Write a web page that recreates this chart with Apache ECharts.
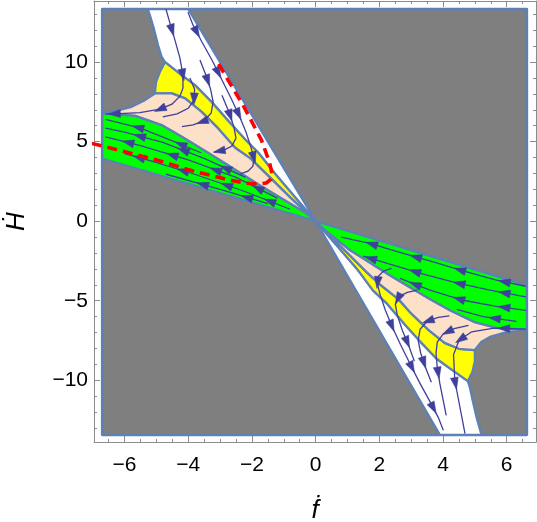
<!DOCTYPE html>
<html>
<head>
<meta charset="utf-8">
<script src="https://cdn.jsdelivr.net/npm/echarts@6/dist/echarts.min.js"></script>
<style>
html, body { margin: 0; padding: 0; background: #fff; }
#chart { width: 537px; height: 522px; }
</style>
</head>
<body>
<div id="chart"></div>
<script>
// plotted area (grey background)
var plotBox = [[-6.7, -13.43], [6.63, -13.43], [6.63, 13.33], [-6.7, 13.33]];

// upper-left region boundaries
var ulBlobEdge = [[-5.27, 13.33], [-5.2, 12.9], [-5.08, 12.1], [-4.95, 11.07], [-4.84, 10.35], [-4.73, 10.0]];
var ulWhiteEdge = [[-4.0, 13.33], [0, 0]];
var ulYellowTop = [[-4.73, 10.0], [-4.21, 9.18], [-3.79, 8.55], [-3.27, 7.5], [-2.74, 6.3], [-2.22, 5.15], [-1.8, 4.3], [-1.28, 3.0], [-0.6, 1.4], [0, 0]];
var ulYellowBottom = [[-5.05, 8.03], [-4.52, 8.03], [-4.1, 7.72], [-3.58, 6.87], [-3.06, 5.83], [-2.53, 4.62], [-2.05, 3.95], [-1.59, 3.05], [-0.8, 1.5], [0, 0]];
var ulYellowLeft = [[-5.05, 8.03], [-5.01, 8.76], [-4.89, 9.39], [-4.73, 10.0]];
var ulPeachTopLeft = [[-6.7, 6.77], [-6.3, 6.92], [-5.78, 7.19], [-5.36, 7.61], [-5.05, 8.03]];
var ulGreenTop = [[-6.7, 6.77], [-5.67, 6.62], [-4.84, 6.04], [-4.2, 5.3], [-3.5, 4.45], [-2.84, 3.63], [-1.8, 2.3], [-0.34, 0.55], [0, 0]];
var ulGreenBottom = [[-6.7, 3.94], [0, 0]];

// lower-right region boundaries
var lrWhiteEdge = [[0, 0], [3.9, -13.43]];
var lrBlobEdge = [[5.21, -13.43], [5.05, -12.3], [4.93, -11.26], [4.85, -10.5], [4.78, -10.05]];
var lrYellowBottom = [[0, 0], [0.7, -1.6], [1.3, -3.0], [1.8, -4.35], [2.25, -5.2], [2.8, -6.5], [3.3, -7.6], [3.8, -8.65], [4.25, -9.3], [4.78, -10.05]];
var lrYellowRight = [[4.78, -10.05], [4.92, -9.5], [5.0, -8.8], [5.0, -8.1]];
var lrYellowTop = [[0, 0], [0.85, -1.7], [1.6, -3.2], [2.0, -3.95], [2.6, -4.9], [3.0, -5.8], [3.55, -6.85], [4.05, -7.65], [4.5, -8.02], [5.0, -8.1]];
var lrPeachRight = [[5.0, -8.1], [5.2, -7.6], [5.5, -7.25], [6.0, -6.98], [6.63, -6.82]];
var lrGreenBottom = [[0, 0], [0.3, -0.57], [1.08, -1.82], [2.33, -3.4], [3.0, -4.2], [3.6, -4.9], [4.22, -5.6], [5.0, -6.35], [5.68, -6.7], [6.63, -6.82]];
var lrGreenTop = [[0, 0], [6.63, -4.03]];

// stream lines, points in flow order
var ulLine1 = [[-4.7, 13.33], [-4.575, 12.45], [-4.418, 11.38], [-4.261, 10.25], [-4.167, 9.18], [-4.167, 8.36], [-4.261, 7.86], [-4.512, 7.36], [-4.889, 7.04], [-5.517, 6.82], [-6.145, 6.76], [-6.6, 6.73]];
var ulLine2 = [[-4.01, 13.14], [-3.852, 12.33], [-3.57, 11.26], [-3.256, 10.13], [-2.942, 8.87], [-2.66, 7.74], [-2.408, 6.67], [-2.188, 5.6], [-2.031, 4.65], [-1.937, 3.96], [-1.969, 3.46], [-2.126, 3.14], [-2.377, 2.96]];
var ulLine3 = [[-3.95, 9.0], [-3.8, 8.3], [-3.82, 7.6], [-4.0, 7.1], [-4.35, 6.75], [-4.8, 6.55]];
var ulLine4 = [[-3.633, 10.13], [-3.45, 9.2], [-3.3, 8.3], [-3.22, 7.5], [-3.28, 6.8], [-3.5, 6.3], [-3.85, 6.05], [-4.2, 5.95]];
var ulLine5 = [[-2.942, 7.92], [-2.722, 6.86], [-2.565, 5.91], [-2.502, 5.22], [-2.628, 4.72], [-2.879, 4.47], [-3.193, 4.34]];
var ulG1 = [[-3.6, 4.3], [-4.5, 5.05], [-5.5, 5.85], [-6.6, 6.4]];
var ulG2 = [[-2.2, 2.75], [-3.5, 3.95], [-4.8, 4.95], [-6.0, 5.6], [-6.6, 5.85]];
var ulG3 = [[-1.2, 1.45], [-2.5, 2.75], [-4.0, 3.85], [-5.5, 4.75], [-6.6, 5.3]];
var ulG4 = [[-0.8, 0.75], [-2.2, 1.85], [-3.8, 2.95], [-5.2, 3.8], [-6.0, 4.25]];
var ulG5 = [[-1.5, 1.1], [-3.0, 2.0], [-4.7, 2.95]];

var lrLine1 = [[6.6, -6.78], [5.6, -6.72], [4.9, -6.95], [4.5, -7.5], [4.33, -8.4], [4.37, -10.0], [4.53, -11.68], [4.69, -13.35]];
var lrLine2 = [[2.38, -2.96], [2.13, -3.14], [1.97, -3.46], [1.94, -3.96], [2.03, -4.65], [2.19, -5.6], [2.41, -6.67], [2.66, -7.74], [2.94, -8.87], [3.26, -10.13], [3.57, -11.26], [3.85, -12.33], [4.01, -13.14]];
var lrLine3 = [[4.8, -6.55], [4.35, -6.75], [4.0, -7.1], [3.82, -7.6], [3.78, -8.3], [3.82, -9.2], [3.9, -10.2], [4.0, -11.2], [4.1, -12.2]];
var lrLine4 = [[4.2, -5.95], [3.85, -6.05], [3.5, -6.3], [3.28, -6.8], [3.22, -7.5], [3.3, -8.3], [3.45, -9.2], [3.633, -10.13]];
var lrLine5 = [[3.193, -4.34], [2.879, -4.47], [2.628, -4.72], [2.502, -5.22], [2.565, -5.91], [2.722, -6.86], [2.942, -7.92], [3.1, -8.8]];
var lrG1 = [[6.6, -4.09], [5.68, -3.71], [4.74, -3.19], [3.69, -2.56], [2.75, -2.03], [1.7, -1.4], [0.8, -1.0]];
var lrG2 = [[6.6, -4.76], [5.47, -4.34], [4.43, -3.88], [3.38, -3.33], [2.33, -2.7], [1.49, -2.2]];
var lrG3 = [[6.6, -5.6], [5.68, -5.35], [4.63, -4.97], [3.59, -4.34], [2.65, -3.6]];
var lrG4 = [[6.3, -6.3], [5.26, -6.0], [4.43, -5.55]];

// red dashed curve
var redCurve = [[-7.03, 4.89], [-6.05, 4.4], [-4.99, 3.84], [-3.95, 3.21], [-2.9, 2.68], [-2.25, 2.4], [-1.8, 2.33], [-1.55, 2.4], [-1.4, 2.65], [-1.37, 3.0], [-1.45, 3.7], [-1.7, 5.09], [-2.25, 7.19], [-2.75, 8.87], [-3.12, 10.13]];

function rev(a) { return a.slice().reverse(); }

var regions = [
  { pts: plotBox, fill: '#7f7f7f' },
  { pts: ulBlobEdge.concat(ulYellowTop.slice(1), rev(ulWhiteEdge).slice(1)), fill: '#ffffff' },
  { pts: ulYellowTop.concat(rev(ulYellowBottom).slice(1), ulYellowLeft.slice(1)), fill: '#ffff00' },
  { pts: ulYellowBottom.concat(rev(ulGreenTop).slice(1), ulPeachTopLeft.slice(1)), fill: '#fde0c8' },
  { pts: ulGreenTop.concat(rev(ulGreenBottom).slice(1)), fill: '#00ff00' },
  { pts: lrWhiteEdge.concat(lrBlobEdge, rev(lrYellowBottom).slice(1)), fill: '#ffffff' },
  { pts: lrYellowBottom.concat(lrYellowRight.slice(1), rev(lrYellowTop).slice(1)), fill: '#ffff00' },
  { pts: lrYellowTop.concat(lrPeachRight.slice(1), rev(lrGreenBottom).slice(1)), fill: '#fde0c8' },
  { pts: lrGreenBottom.concat(rev(lrGreenTop)), fill: '#00ff00' }
];

var streams = [ulLine1, ulLine2, ulLine3, ulLine4, ulLine5, ulG1, ulG2, ulG3, ulG4, ulG5,
  lrLine1, lrLine2, lrLine3, lrLine4, lrLine5, lrG1, lrG2, lrG3, lrG4];

var edgeColor = '#5e81b5';
var streamColor = '#3f3f9c';

function minusFmt(v) { return String(v).replace('-', '\u2212'); }

// polyline plus arrow heads spaced along it
function renderStream(params, api) {
  var line = streams[api.value(0)];
  var pts = line.map(function (p) { return api.coord(p); });
  var children = [{
    type: 'polyline',
    shape: { points: pts },
    style: { stroke: streamColor, lineWidth: 1.3, fill: null }
  }];
  var segs = [], total = 0;
  for (var i = 1; i < pts.length; i++) {
    var dx = pts[i][0] - pts[i - 1][0], dy = pts[i][1] - pts[i - 1][1];
    var len = Math.sqrt(dx * dx + dy * dy);
    segs.push({ a: pts[i - 1], dx: dx, dy: dy, len: len, start: total });
    total += len;
  }
  var marks = [];
  for (var s = 22; s < total - 5; s += 46) marks.push(s);
  if (!marks.length) marks.push(total / 2);
  marks.forEach(function (s) {
    var seg = segs[0];
    for (var k = 0; k < segs.length; k++) {
      if (s >= segs[k].start && s <= segs[k].start + segs[k].len) { seg = segs[k]; break; }
    }
    var t = (s - seg.start) / seg.len;
    var ux = seg.dx / seg.len, uy = seg.dy / seg.len;
    var cx = seg.a[0] + seg.dx * t, cy = seg.a[1] + seg.dy * t;
    var L = 6, W = 4;
    children.push({
      type: 'polygon',
      shape: { points: [
        [cx + ux * L, cy + uy * L],
        [cx - ux * L - uy * W, cy - uy * L + ux * W],
        [cx - ux * L + uy * W, cy - uy * L - ux * W]
      ] },
      style: { fill: streamColor, stroke: streamColor, lineWidth: 0.5 }
    });
  });
  return { type: 'group', children: children };
}

var axisLineStyle = { color: '#8c8c8c', width: 1 };
var tickStyle = { color: '#8c8c8c', width: 1 };

var chart = echarts.init(document.getElementById('chart'));
chart.setOption({
  animation: false,
  grid: { left: 94, right: 1, top: 1, bottom: 80, containLabel: false, outerBoundsMode: 'none' },
  xAxis: [{
    type: 'value', min: -6.96, max: 6.92, splitNumber: 7,
    position: 'bottom',
    name: '\u1E1F', nameLocation: 'middle', nameGap: 56,
    nameTextStyle: { fontSize: 26, fontStyle: 'italic', fontFamily: 'Liberation Sans', color: '#000' },
    axisLine: { onZero: false, lineStyle: axisLineStyle },
    axisTick: { inside: true, length: 6, lineStyle: tickStyle },
    minorTick: { show: true, splitNumber: 4, length: 3, lineStyle: tickStyle },
    axisLabel: { fontSize: 21, fontFamily: 'Liberation Sans', color: '#000', margin: 13, showMinLabel: false, showMaxLabel: false, formatter: minusFmt },
    splitLine: { show: false }
  }, {
    type: 'value', min: -6.96, max: 6.92, splitNumber: 7,
    position: 'top',
    axisLine: { onZero: false, lineStyle: axisLineStyle },
    axisTick: { inside: true, length: 6, lineStyle: tickStyle },
    minorTick: { show: true, splitNumber: 4, length: 3, lineStyle: tickStyle },
    axisLabel: { show: false },
    splitLine: { show: false }
  }],
  yAxis: [{
    type: 'value', min: -13.88, max: 13.84, splitNumber: 5,
    position: 'left',
    name: '\u1E22', nameLocation: 'middle', nameGap: 64, nameRotate: 90,
    nameTextStyle: { fontSize: 26, fontStyle: 'italic', fontFamily: 'Liberation Sans', color: '#000' },
    axisLine: { onZero: false, lineStyle: axisLineStyle },
    axisTick: { inside: true, length: 6, lineStyle: tickStyle },
    minorTick: { show: true, splitNumber: 5, length: 3, lineStyle: tickStyle },
    axisLabel: { fontSize: 21, fontFamily: 'Liberation Sans', color: '#000', margin: 6, showMinLabel: false, showMaxLabel: false, formatter: minusFmt },
    splitLine: { show: false }
  }, {
    type: 'value', min: -13.88, max: 13.84, splitNumber: 5,
    position: 'right',
    axisLine: { onZero: false, lineStyle: axisLineStyle },
    axisTick: { inside: true, length: 6, lineStyle: tickStyle },
    minorTick: { show: true, splitNumber: 5, length: 3, lineStyle: tickStyle },
    axisLabel: { show: false },
    splitLine: { show: false }
  }],
  series: [{
    type: 'custom',
    coordinateSystem: 'cartesian2d',
    silent: true,
    z: 1,
    data: regions.map(function (r, i) { return [i]; }),
    encode: { x: -1, y: -1 },
    renderItem: function (params, api) {
      var r = regions[api.value(0)];
      return {
        type: 'polygon',
        shape: { points: r.pts.map(function (p) { return api.coord(p); }) },
        style: { fill: r.fill, stroke: edgeColor, lineWidth: r.pts === plotBox ? 2.8 : 2.3, lineJoin: 'round' }
      };
    }
  }, {
    type: 'custom',
    coordinateSystem: 'cartesian2d',
    silent: true,
    z: 2,
    data: streams.map(function (s, i) { return [i]; }),
    encode: { x: -1, y: -1 },
    renderItem: renderStream
  }, {
    type: 'line',
    data: redCurve,
    z: 3,
    silent: true,
    clip: false,
    showSymbol: false,
    symbol: 'none',
    lineStyle: { color: '#ff0000', width: 3.6, type: [10, 6] }
  }]
});
</script>
</body>
</html>
